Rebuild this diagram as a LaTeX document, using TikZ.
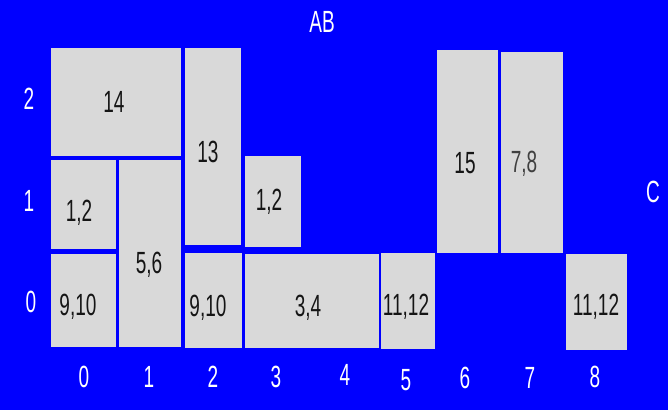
\documentclass[tikz,border=0pt]{standalone}
\usepackage{fontspec}
\setmainfont{Liberation Sans}[FakeStretch=0.62]
\usetikzlibrary{fit}
\definecolor{gridblue}{HTML}{0000FF}
\definecolor{cellgray}{HTML}{D9D9D9}
\definecolor{numblack}{HTML}{151515}
\definecolor{numgray}{HTML}{404040}
\tikzset{
  cell/.style={rectangle,fill=cellgray,inner sep=0pt},
  num/.style={text=numblack,font=\fontsize{23}{23}\selectfont,inner sep=0pt,text height=16.5pt,text depth=0pt},
  axis/.style={num,text=white}
}
\begin{document}
\begin{tikzpicture}[x=0.75pt,y=-0.75pt]
\fill[gridblue] (0,0) rectangle (668,410);
% cells
\node[cell,fit={(51,48) (181,156)}] (b14) {};
\node[cell,fit={(185,48) (241,245)}] (b13) {};
\node[cell,fit={(51,160) (116,249)}] (b12a) {};
\node[cell,fit={(119,160) (181,347)}] (b56) {};
\node[cell,fit={(51,254) (116,347)}] (b910a) {};
\node[cell,fit={(245,156) (301,247)}] (b12b) {};
\node[cell,fit={(185,253) (242,348)}] (b910b) {};
\node[cell,fit={(245,254) (379,348)}] (b34) {};
\node[cell,fit={(381,253) (435,349)}] (b1112a) {};
\node[cell,fit={(437,50) (498,253)}] (b15) {};
\node[cell,fit={(501,52) (563,253)}] (b78) {};
\node[cell,fit={(566,254) (627,350)}] (b1112b) {};
% cell texts
\node[num] (t14) at (114,102) {14};
\node[num] (t13) at (208,151) {13};
\node[num] (t12a) at (79,210) {1,2};
\node[num] (t56) at (149,262) {5,6};
\node[num] (t910a) at (78,304) {9,10};
\node[num] (t12b) at (269,199) {1,2};
\node[num] (t910b) at (208,305) {9,10};
\node[num] (t34) at (308,305) {3,4};
\node[num] (t1112a) at (406,304) {11,12};
\node[num] (t15) at (465,162) {15};
\node[num,text=numgray] (t78) at (524,161) {7,8};
\node[num] (t1112b) at (596,304) {11,12};
% axes
\node[axis] (ab) at (322,22) {AB};
\node[axis] (c) at (653,191) {C};
\node[axis] (y2) at (29,98) {2};
\node[axis] (y1) at (29,200) {1};
\node[axis] (y0) at (31,301) {0};
\node[axis] (x0) at (84,376) {0};
\node[axis] (x1) at (149,376) {1};
\node[axis] (x2) at (213,376) {2};
\node[axis] (x3) at (276,376) {3};
\node[axis] (x4) at (345,374) {4};
\node[axis] (x5) at (406,379) {5};
\node[axis] (x6) at (465,377) {6};
\node[axis] (x7) at (530,377) {7};
\node[axis] (x8) at (595,376) {8};
\end{tikzpicture}
\end{document}
